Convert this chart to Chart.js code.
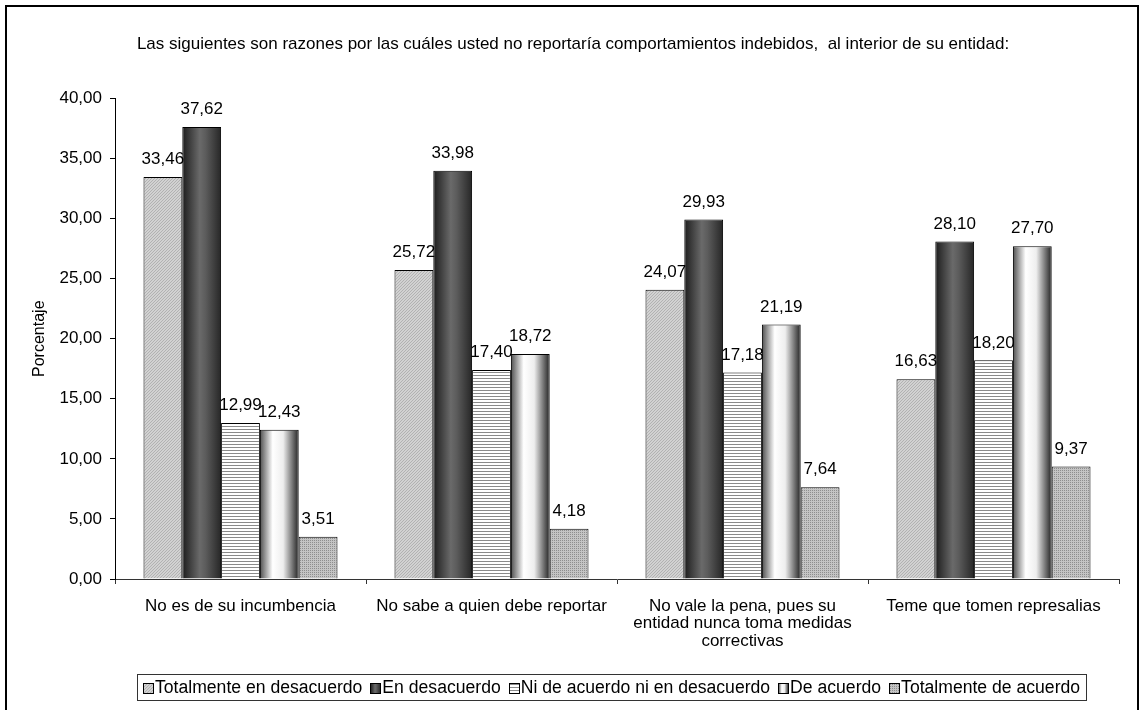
<!DOCTYPE html>
<html>
<head>
<meta charset="utf-8">
<script src="https://cdn.jsdelivr.net/npm/chart.js@4/dist/chart.umd.min.js"></script>
<style>
  html, body { margin: 0; padding: 0; background: #fff; }
  #wrap { position: relative; width: 1143px; height: 710px; }
</style>
</head>
<body>
<div id="wrap"><canvas id="chart" width="1143" height="710"></canvas></div>
<script>
/* ------------------------------------------------------------
   Data
   ------------------------------------------------------------ */
const TITLE = "Las siguientes son razones por las cuáles usted no reportaría comportamientos indebidos,  al interior de su entidad:";
const Y_TITLE = "Porcentaje";

const categories = [
    "No es de su incumbencia",
    "No sabe a quien debe reportar",
    ["No vale la pena, pues su", "entidad nunca toma medidas", "correctivas"],
    "Teme que tomen represalias"
];

const seriesNames = [
    "Totalmente en desacuerdo",
    "En desacuerdo",
    "Ni de acuerdo ni en desacuerdo",
    "De acuerdo",
    "Totalmente de acuerdo"
];

const totalDesacuerdo  = [33.46, 25.72, 24.07, 16.63];
const enDesacuerdo     = [37.62, 33.98, 29.93, 28.10];
const niAcuerdo        = [12.99, 17.40, 17.18, 18.20];
const deAcuerdo        = [12.43, 18.72, 21.19, 27.70];
const totalAcuerdo     = [3.51, 4.18, 7.64, 9.37];

const yTicks = { min: 0, max: 40, step: 5 };

/* ------------------------------------------------------------
   Fills: Excel-like patterns and gradients
   ------------------------------------------------------------ */
const FONT = "'Liberation Sans', Arial, sans-serif";
const CAT_PCT = 0.773;

function makePattern(w, h, draw) {
    const c = document.createElement("canvas");
    c.width = w; c.height = h;
    const g = c.getContext("2d");
    draw(g);
    return g.createPattern(c, "repeat");
}

const diagPattern = makePattern(3, 3, g => {
    g.fillStyle = "#d2d2d2"; g.fillRect(0, 0, 3, 3);
    g.fillStyle = "#b2b2b2";
    g.fillRect(0, 2, 1, 1); g.fillRect(1, 1, 1, 1); g.fillRect(2, 0, 1, 1);
});

const stripePattern = makePattern(1, 3, g => {
    g.fillStyle = "#ffffff"; g.fillRect(0, 0, 1, 3);
    g.fillStyle = "#8a8a8a"; g.fillRect(0, 0, 1, 1);
});

const dotPattern = makePattern(2, 2, g => {
    g.fillStyle = "#c4c4c4"; g.fillRect(0, 0, 2, 2);
    g.fillStyle = "#8e8e8e"; g.fillRect(0, 0, 1, 1);
});

const darkStops  = [[0, "#1c1c1c"], [0.45, "#6a6a6a"], [0.6, "#5c5c5c"], [1, "#262626"]];
const lightStops = [[0, "#4e4e4e"], [0.33, "#ffffff"], [0.6, "#eeeeee"], [1, "#222222"]];

function linGrad(ctx, left, width, stops) {
    const lg = ctx.createLinearGradient(left, 0, left + width, 0);
    stops.forEach(s => lg.addColorStop(s[0], s[1]));
    return lg;
}

// horizontal gradient across one bar, positioned from the category scale
function barGradient(stops) {
    return context => {
        const chart = context.chart;
        const xs = chart.scales.x;
        if (!xs || context.dataIndex === undefined) return stops[1][1];
        const n = chart.data.datasets.length;
        const catW = (xs.right - xs.left) / categories.length;
        const barW = catW * CAT_PCT / n;
        const center = xs.getPixelForValue(context.dataIndex);
        const left = center + (context.datasetIndex - (n - 1) / 2) * barW - barW / 2;
        if (!isFinite(left) || !isFinite(barW) || barW <= 0) return stops[1][1];
        return linGrad(chart.ctx, left, barW, stops);
    };
}

const fills = [diagPattern, barGradient(darkStops), stripePattern, barGradient(lightStops), dotPattern];
const seriesData = [totalDesacuerdo, enDesacuerdo, niAcuerdo, deAcuerdo, totalAcuerdo];

const fmt = v => v.toFixed(2).replace(".", ",");

/* ------------------------------------------------------------
   Plugins: frame, value labels, boxed legend
   ------------------------------------------------------------ */
const framePlugin = {
    id: "frame",
    afterDraw(chart) {
        const ctx = chart.ctx;
        ctx.save();
        ctx.strokeStyle = "#000";
        ctx.lineWidth = 2;
        ctx.strokeRect(6, 6, 1132, 730);
        ctx.restore();
    }
};

const valueLabels = {
    id: "valueLabels",
    afterDatasetsDraw(chart) {
        const ctx = chart.ctx;
        ctx.save();
        ctx.font = "17px " + FONT;
        ctx.fillStyle = "#000";
        ctx.textAlign = "center";
        ctx.textBaseline = "bottom";
        chart.data.datasets.forEach((ds, i) => {
            chart.getDatasetMeta(i).data.forEach((bar, j) => {
                ctx.fillText(fmt(ds.data[j]), bar.x, bar.y - 9);
            });
        });
        ctx.restore();
    }
};

// Excel style legend: tight swatch/text spacing inside a thin box
const boxLegend = {
    id: "boxLegend",
    afterDraw(chart) {
        const ctx = chart.ctx;
        const startX = 143, midY = 688, box = 10, gap = 2, itemGap = 8;
        const legendFills = [diagPattern, darkStops, stripePattern, lightStops, dotPattern];
        ctx.save();
        ctx.font = "17.6px " + FONT;
        ctx.textBaseline = "middle";
        ctx.textAlign = "left";
        let x = startX;
        chart.data.datasets.forEach((ds, i) => {
            const bx = Math.round(x) + 0.5, by = midY - 5 + 0.5;
            const f = legendFills[i];
            ctx.fillStyle = Array.isArray(f) ? linGrad(ctx, bx, box, f) : f;
            ctx.fillRect(bx, by, box, box);
            ctx.strokeStyle = "#000";
            ctx.lineWidth = 1;
            ctx.strokeRect(bx, by, box, box);
            ctx.fillStyle = "#000";
            ctx.fillText(ds.label, x + box + gap, midY);
            x += box + gap + ctx.measureText(ds.label).width + itemGap;
        });
        const right = x - itemGap + 6;
        ctx.strokeStyle = "#333";
        ctx.strokeRect(137.5, 674.5, Math.round(right - 137), 26);
        ctx.restore();
    }
};

/* ------------------------------------------------------------
   Chart
   ------------------------------------------------------------ */
new Chart(document.getElementById("chart"), {
    type: "bar",
    data: {
        labels: categories,
        datasets: seriesNames.map((name, i) => ({
            label: name,
            data: seriesData[i],
            backgroundColor: fills[i],
            borderColor: "#000",
            borderWidth: 1,
            barPercentage: 1,
            categoryPercentage: CAT_PCT
        }))
    },
    options: {
        responsive: false,
        animation: false,
        layout: { padding: { left: 27, right: 24, top: 0, bottom: 38 } },
        scales: {
            x: {
                grid: { drawOnChartArea: false, tickLength: 5, color: "#333", offset: true },
                border: { color: "#333", width: 1 },
                ticks: {
                    color: "#000",
                    padding: 13,
                    maxRotation: 0,
                    autoSkip: false,
                    font: { family: FONT, size: 17, lineHeight: 1.05 }
                },
                afterFit: s => { s.height = 93; }
            },
            y: {
                min: yTicks.min,
                max: yTicks.max,
                grid: { drawOnChartArea: false, tickLength: 5, color: "#000" },
                border: { color: "#000", width: 1 },
                ticks: {
                    stepSize: yTicks.step,
                    color: "#000",
                    padding: 8,
                    font: { family: FONT, size: 17 },
                    callback: v => fmt(v)
                },
                title: {
                    display: true,
                    text: Y_TITLE,
                    color: "#000",
                    padding: { top: 3, bottom: 0 },
                    font: { family: FONT, size: 16 }
                },
                afterFit: s => { s.width = 88; }
            }
        },
        plugins: {
            title: {
                display: true,
                text: TITLE,
                color: "#000",
                padding: { top: 34, bottom: 44 },
                font: { family: FONT, size: 17, weight: "normal" }
            },
            legend: { display: false },
            tooltip: { enabled: false }
        }
    },
    plugins: [valueLabels, boxLegend, framePlugin]
});
</script>
</body>
</html>
